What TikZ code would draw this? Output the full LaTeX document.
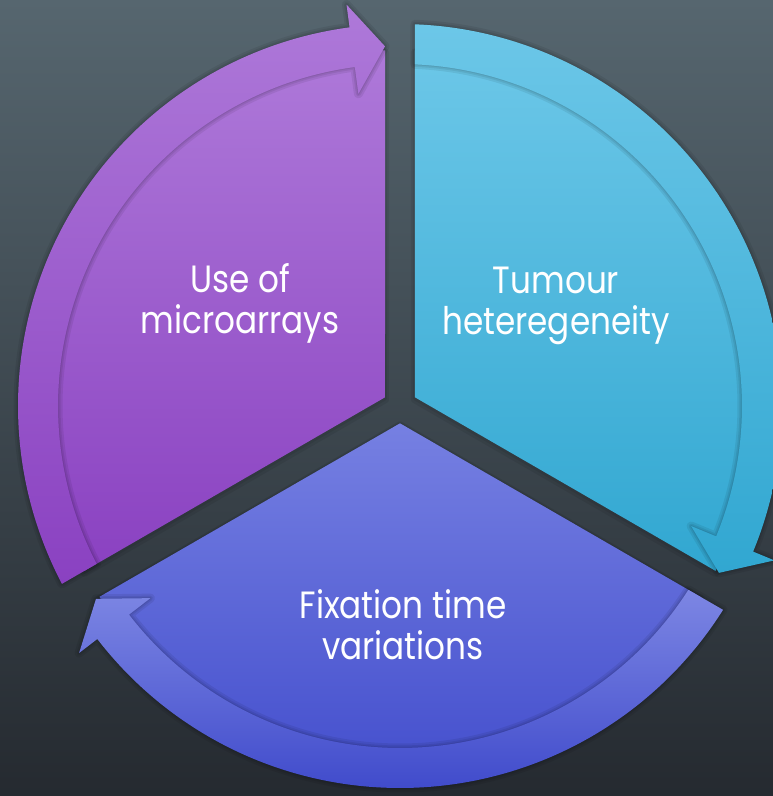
\documentclass[tikz,border=0pt]{standalone}
\usepackage{fontspec}
\newfontfamily\segfont{Poppins}[FakeStretch=0.86]

\definecolor{bgtop}{HTML}{56666F}
\definecolor{bgmid}{HTML}{44525A}
\definecolor{bgbot}{HTML}{252A30}
\definecolor{purpletop}{HTML}{AE79D9}
\definecolor{purplebot}{HTML}{8A41C1}
\definecolor{cyantop}{HTML}{6CC7E8}
\definecolor{cyanbot}{HTML}{31A7D1}
\definecolor{bluetop}{HTML}{7680E2}
\definecolor{bluebot}{HTML}{3F4ACB}

% one segment of the cycle, #1 = angle of its tail edge
\newcommand{\wedgepath}[1]{({#1-60}:17.32) -- ({#1-2.415}:356)
  arc[start angle={#1-2.415}, end angle={#1-117.585}, radius=356] -- cycle}
\newcommand{\arrowpath}[1]{({#1-2.25}:382)
  arc[start angle={#1-2.25}, end angle={#1-112.41}, radius=382]
  -- ({#1-112.41}:405) -- ({#1-117.612}:360) -- ({#1-112.41}:315)
  -- ({#1-112.41}:342)
  arc[start angle={#1-112.41}, end angle={#1-2.514}, radius=342] -- cycle}

\tikzset{segtext/.style={ % white labels inside the wedges
			text=white,
			align=center,
			font=\segfont\fontsize{38}{41}\selectfont},
		segshadow/.style={draw=black, draw opacity=0.07, line width=#1, line join=round}}

\begin{document}
\begin{tikzpicture}[x=1pt, y=1pt]
			\useasboundingbox (-400,-390) rectangle (373,406);
			\shade[top color=bgtop, middle color=bgmid, bottom color=bgbot] (-400,-390) rectangle (373,406);
			
			% purple
			\draw[segshadow=8pt, yshift=-2pt] \wedgepath{210};
			\draw[segshadow=4pt, yshift=-1pt] \wedgepath{210};
			\shade[top color=purpletop, bottom color=purplebot] \wedgepath{210};
			\draw[segshadow=9pt] \arrowpath{210};
			\draw[segshadow=5pt] \arrowpath{210};
			\draw[segshadow=2pt] \arrowpath{210};
			\shade[top color=purpletop, bottom color=purplebot] \arrowpath{210};
			
			% cyan
			\draw[segshadow=8pt, yshift=-2pt] \wedgepath{90};
			\draw[segshadow=4pt, yshift=-1pt] \wedgepath{90};
			\shade[top color=cyantop, bottom color=cyanbot] \wedgepath{90};
			\draw[segshadow=9pt] \arrowpath{90};
			\draw[segshadow=5pt] \arrowpath{90};
			\draw[segshadow=2pt] \arrowpath{90};
			\shade[top color=cyantop, bottom color=cyanbot] \arrowpath{90};
			
			% blue
			\draw[segshadow=8pt, yshift=-2pt] \wedgepath{-30};
			\draw[segshadow=4pt, yshift=-1pt] \wedgepath{-30};
			\shade[top color=bluetop, bottom color=bluebot] \wedgepath{-30};
			\draw[segshadow=9pt] \arrowpath{-30};
			\draw[segshadow=5pt] \arrowpath{-30};
			\draw[segshadow=2pt] \arrowpath{-30};
			\shade[top color=bluetop!95!white, bottom color=bluebot] \arrowpath{-30};
			
			\node[segtext] (use) at (-160,103) {Use of\\microarrays};
			\node[segtext] (tumour) at (156,100) {Tumour\\heteregeneity};
			\node[segtext] (fixation) at (3,-219) {Fixation time\\variations};
		\end{tikzpicture}
\end{document}
